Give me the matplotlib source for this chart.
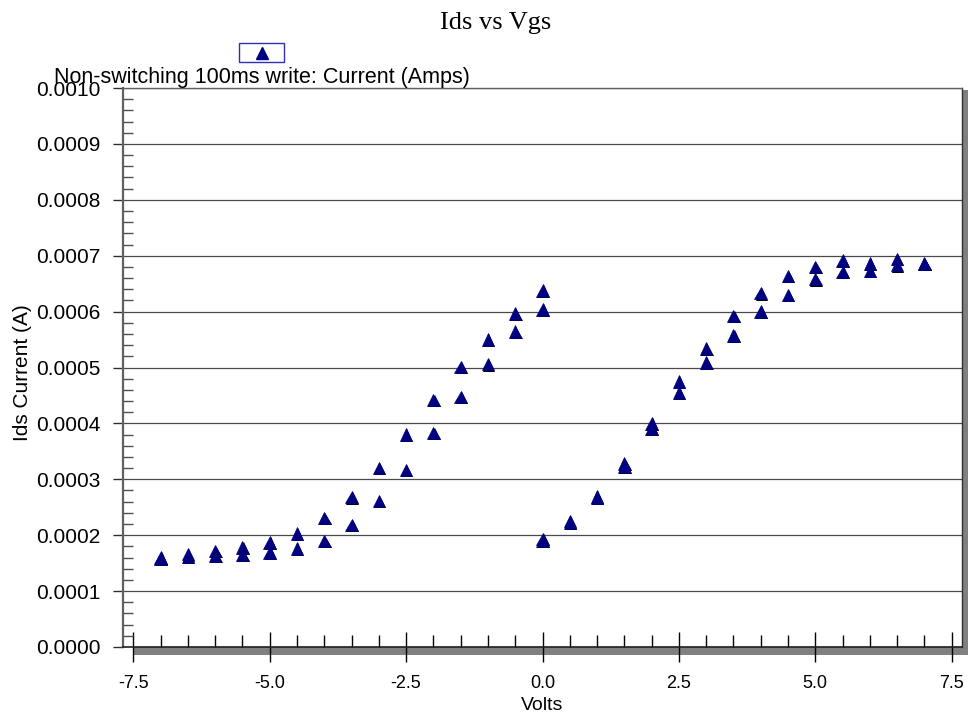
import matplotlib
matplotlib.use("Agg")
import matplotlib.pyplot as plt
import matplotlib.patheffects as pe
from matplotlib.patches import Rectangle
from matplotlib.lines import Line2D
from matplotlib.ticker import MultipleLocator, FormatStrFormatter

# gate sweep, negative side (two passes)
vgs_neg = [-7.0, -6.5, -6.0, -5.5, -5.0, -4.5, -4.0, -3.5, -3.0, -2.5, -2.0, -1.5, -1.0, -0.5, 0.0]
ids_neg_a = [1.60, 1.66, 1.72, 1.78, 1.87, 2.03, 2.31, 2.68, 3.20, 3.80, 4.42, 5.01, 5.50, 5.97, 6.38]
ids_neg_b = [1.58, 1.62, 1.64, 1.65, 1.69, 1.76, 1.90, 2.18, 2.61, 3.17, 3.83, 4.47, 5.06, 5.64, 6.04]

# gate sweep, positive side (two passes)
vgs_pos = [0.0, 0.5, 1.0, 1.5, 2.0, 2.5, 3.0, 3.5, 4.0, 4.5, 5.0, 5.5, 6.0, 6.5, 7.0]
ids_pos_a = [1.93, 2.25, 2.69, 3.28, 4.00, 4.75, 5.34, 5.92, 6.33, 6.64, 6.80, 6.91, 6.86, 6.94, 6.86]
ids_pos_b = [1.90, 2.23, 2.67, 3.23, 3.91, 4.55, 5.09, 5.57, 6.00, 6.30, 6.58, 6.71, 6.73, 6.83, 6.85]

series_label = "Non-switching 100ms write: Current (Amps)"
title = "Ids vs Vgs"
xlabel = "Volts"
ylabel = "Ids Current (A)"

W, H = 968, 717
NAVY = "#000080"


def fx(px):
    return px / W


def fy(py):
    return 1 - py / H


fig = plt.figure(figsize=(W / 100, H / 100), dpi=100)
plt.rcParams["font.family"] = ["Liberation Sans", "DejaVu Sans"]

# drop shadow behind the plot frame
fig.add_artist(Rectangle((fx(133), fy(655)), fx(968 - 133), (655 - 90) / H,
                         transform=fig.transFigure, facecolor="#808080",
                         edgecolor="none", zorder=-1))

ax = fig.add_axes([fx(123), fy(647), fx(962 - 123), (647 - 88) / H])
ax.set_facecolor("white")

shadow = [pe.withSimplePatchShadow(offset=(0.8, -0.8), shadow_rgbFace="black", alpha=1)]
xs = vgs_neg + vgs_neg + vgs_pos + vgs_pos
ys = [v * 1e-4 for v in ids_neg_a + ids_neg_b + ids_pos_a + ids_pos_b]
ax.plot(xs, ys, linestyle="none", marker="^", markersize=9, color=NAVY,
        markeredgecolor=NAVY, markeredgewidth=0.5, path_effects=shadow, zorder=3)

ax.set_xlim(-7.69, 7.69)
ax.set_ylim(0, 0.0010)

ax.xaxis.set_major_locator(MultipleLocator(2.5))
ax.xaxis.set_minor_locator(MultipleLocator(0.5))
ax.xaxis.set_major_formatter(FormatStrFormatter("%.1f"))
ax.yaxis.set_major_locator(MultipleLocator(0.0001))
ax.yaxis.set_minor_locator(MultipleLocator(0.00002))
ax.yaxis.set_major_formatter(FormatStrFormatter("%.4f"))

ax.grid(axis="y", which="major", color="#4a4a4a", linewidth=0.9)
ax.set_axisbelow(True)

ax.tick_params(axis="x", which="major", direction="inout", length=21, width=1,
               color="black", labelsize=13, pad=10)
ax.tick_params(axis="x", which="minor", direction="in", length=8.6, width=1, color="black")
ax.tick_params(axis="y", which="major", direction="out", length=7.2, width=1,
               color="#303030", labelsize=15, pad=9)
ax.tick_params(axis="y", which="minor", direction="in", length=7.2, width=1, color="#505050")

ax.spines["left"].set_color("#606060")
ax.spines["left"].set_linewidth(1.6)
ax.spines["top"].set_color("#606060")
ax.spines["top"].set_linewidth(1.0)
ax.spines["right"].set_color("#303030")
ax.spines["right"].set_linewidth(1.0)
ax.spines["bottom"].set_color("#202020")
ax.spines["bottom"].set_linewidth(1.2)

ax.set_xlabel(xlabel, fontsize=14)
ax.xaxis.set_label_coords(0.5, -0.09)
ax.set_ylabel(ylabel, fontsize=15)
ax.yaxis.set_label_coords(-0.108, 0.49)

fig.text(fx(496), fy(23), title, family=["Liberation Serif", "DejaVu Serif"],
         fontsize=19, ha="center", va="center")

# legend: boxed marker with the series name underneath
fig.add_artist(Rectangle((fx(239), fy(62)), fx(45), 19 / H, transform=fig.transFigure,
                         facecolor="white", edgecolor="#2f2fb0", linewidth=1.0))
fig.add_artist(Line2D([fx(261.5)], [fy(52.5)], transform=fig.transFigure, marker="^",
                      markersize=9, color=NAVY, linestyle="none"))
fig.text(fx(262), fy(77), series_label, fontsize=15.5, ha="center", va="center")

fig.savefig("out.png", dpi=100)
